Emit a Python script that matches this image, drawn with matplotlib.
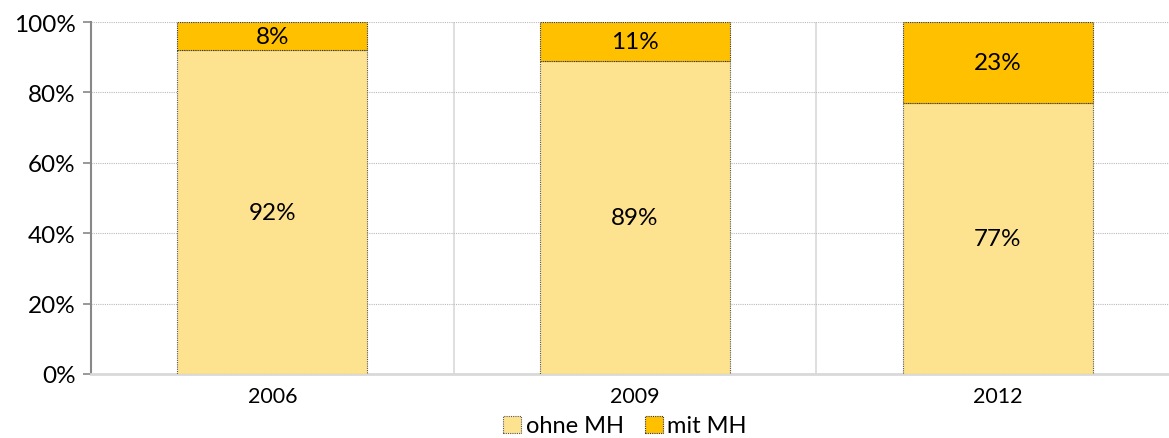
import matplotlib.pyplot as plt
import numpy as np
from matplotlib.ticker import PercentFormatter

plt.rcParams["font.family"] = ["Lato", "DejaVu Sans"]

years = ["2006", "2009", "2012"]
ohne_mh = [92, 89, 77]
mit_mh = [8, 11, 23]

c_ohne = "#FDE28F"
c_mit = "#FFC000"

fig = plt.figure(figsize=(11.69, 4.39), dpi=100)
ax = fig.add_axes([91 / 1169, 64 / 439, 1088 / 1169, 352 / 439])

x = np.arange(len(years))
w = 0.524
b1 = ax.bar(x, ohne_mh, w, color=c_ohne, edgecolor="#555555", linewidth=0.8,
            linestyle=(0, (1, 1)), label="ohne MH", zorder=3)
b2 = ax.bar(x, mit_mh, w, bottom=ohne_mh, color=c_mit, edgecolor="#333333",
            linewidth=0.8, linestyle=(0, (1, 1)), label="mit MH", zorder=3)

for xi, a, b in zip(x, ohne_mh, mit_mh):
    ax.text(xi, a / 2, f"{a}%", ha="center", va="center", fontsize=17.5, zorder=4)
    ax.text(xi, a + b / 2, f"{b}%", ha="center", va="center", fontsize=17.5, zorder=4)

ax.set_xlim(-0.5, len(years) - 0.5)
ax.set_ylim(0, 100)
ax.set_xticks(x)
ax.set_xticklabels(years, fontsize=15.5)
ax.set_yticks(range(0, 101, 20))
ax.yaxis.set_major_formatter(PercentFormatter(decimals=0))
ax.tick_params(axis="y", labelsize=17.5, length=6, color="#888888", width=1.2, pad=5)
ax.tick_params(axis="x", length=0, pad=9)

ax.grid(axis="y", color="#bbbbbb", linestyle=(0, (1, 1)), linewidth=0.8, zorder=0)
for sep in [0.5, 1.5]:
    ax.axvline(sep, color="#d9d9d9", linewidth=1.2, zorder=0)

for s in ["top", "right"]:
    ax.spines[s].set_visible(False)
ax.spines["left"].set_color("#888888")
ax.spines["left"].set_linewidth(1.5)
ax.spines["bottom"].set_color("#d9d9d9")
ax.spines["bottom"].set_linewidth(2)

fig.legend(handles=[b1, b2], loc="center", bbox_to_anchor=(625 / 1169, 1 - 427 / 439),
           ncol=2, frameon=False, fontsize=17, handlelength=0.75, handleheight=0.75,
           handletextpad=0.2, columnspacing=0.9, borderaxespad=0)

fig.savefig("out.png", dpi=100)
